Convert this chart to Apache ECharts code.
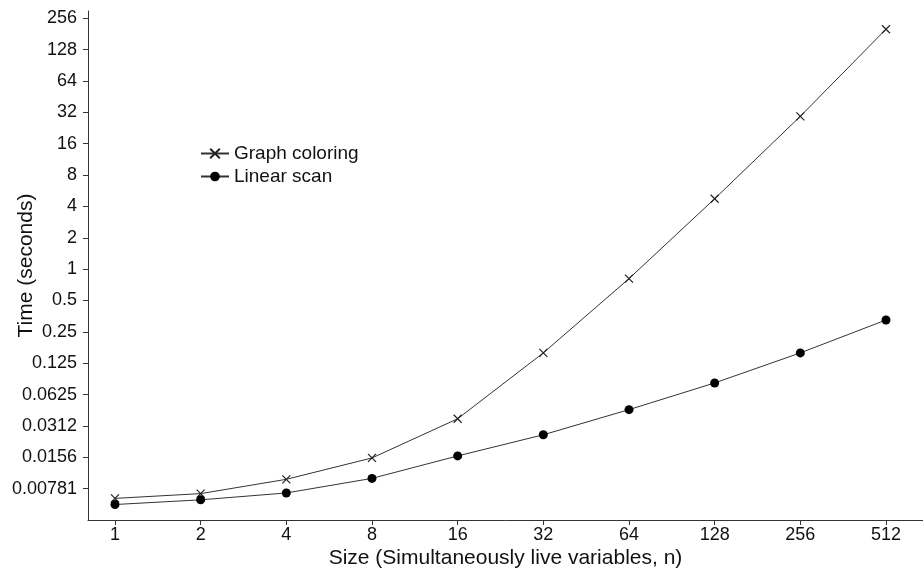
<!DOCTYPE html>
<html>
<head>
<meta charset="utf-8">
<script src="https://cdn.jsdelivr.net/npm/echarts@6/dist/echarts.min.js"></script>
<style>
  html, body { margin: 0; padding: 0; background: #fff; }
  #chart { width: 923px; height: 570px; }
</style>
</head>
<body>
<div id="chart"></div>
<script>
// sizes n, and times in seconds
const sizes = [1, 2, 4, 8, 16, 32, 64, 128, 256, 512];
const graphColoring = [0.0063, 0.0070, 0.0096, 0.0154, 0.0366, 0.157, 0.81, 4.74, 29.3, 201];
const linearScan = [0.0055, 0.0061, 0.0071, 0.0098, 0.0161, 0.0257, 0.0448, 0.0808, 0.157, 0.325];
const yTickValues = [0.0078125, 0.015625, 0.03125, 0.0625, 0.125, 0.25, 0.5, 1, 2, 4, 8, 16, 32, 64, 128, 256];
const yTickLabels = ["0.00781", "0.0156", "0.0312", "0.0625", "0.125", "0.25", "0.5", "1", "2", "4", "8", "16", "32", "64", "128", "256"];

const font = "Liberation Sans, Arial, sans-serif";
const ink = "#111";
const lineColor = "#333";

const near = (a, b) => Math.abs(Math.log2(a) - Math.log2(b)) < 1e-6;

const xLabel = (v) => {
  const i = sizes.findIndex(s => near(s, v));
  return i < 0 ? "" : String(sizes[i]);
};
const yLabel = (v) => {
  const i = yTickValues.findIndex(s => near(s, v));
  return i < 0 ? "" : yTickLabels[i];
};

const crossSymbol = "path://M0,0L10,10M10,0L0,10";

const chart = echarts.init(document.getElementById("chart"), null, { renderer: "canvas" });

chart.setOption({
  animation: false,
  backgroundColor: "#fff",
  textStyle: { fontFamily: font },
  grid: { left: 88, right: 0, top: 11, bottom: 50, outerBoundsMode: "none" },
  legend: {
    orient: "vertical",
    left: 195,
    top: 139,
    itemGap: 4,
    itemWidth: 28,
    itemHeight: 12,
    textStyle: { fontFamily: font, fontSize: 19, color: ink },
    data: ["Graph coloring", "Linear scan"]
  },
  xAxis: {
    type: "log",
    logBase: 2,
    min: Math.pow(2, -0.315),
    max: Math.pow(2, 9.432),
    splitLine: { show: false },
    axisLine: { lineStyle: { color: lineColor, width: 1 } },
    axisTick: { show: true, inside: false, length: 5, customValues: sizes, lineStyle: { color: lineColor } },
    axisLabel: { formatter: xLabel, customValues: sizes, fontSize: 18, color: ink, margin: 6, fontFamily: font },
    name: "Size (Simultaneously live variables, n)",
    nameLocation: "middle",
    nameGap: 28,
    nameMoveOverlap: false,
    nameTextStyle: { fontSize: 21, color: ink, fontFamily: font }
  },
  yAxis: {
    type: "log",
    logBase: 2,
    min: Math.pow(2, -8),
    max: Math.pow(2, 8.232),
    splitLine: { show: false },
    axisLine: { show: true, lineStyle: { color: lineColor, width: 1 } },
    axisTick: { show: true, inside: false, length: 5, customValues: yTickValues, lineStyle: { color: lineColor } },
    axisLabel: { formatter: yLabel, customValues: yTickValues, fontSize: 18, color: ink, margin: 11, fontFamily: font },
    name: "Time (seconds)",
    nameLocation: "middle",
    nameGap: 51,
    nameMoveOverlap: false,
    nameTextStyle: { fontSize: 21, color: ink, fontFamily: font }
  },
  series: [
    {
      name: "Graph coloring",
      type: "line",
      data: sizes.map((s, i) => [s, graphColoring[i]]),
      symbol: crossSymbol,
      symbolSize: 8,
      showAllSymbol: true,
      lineStyle: { color: lineColor, width: 1 },
      itemStyle: { color: lineColor, borderColor: "#222", borderWidth: 1.2 }
    },
    {
      name: "Linear scan",
      type: "line",
      data: sizes.map((s, i) => [s, linearScan[i]]),
      symbol: "circle",
      symbolSize: 9,
      showAllSymbol: true,
      lineStyle: { color: lineColor, width: 1 },
      itemStyle: { color: "#000", borderWidth: 0 }
    }
  ]
});
</script>
</body>
</html>
